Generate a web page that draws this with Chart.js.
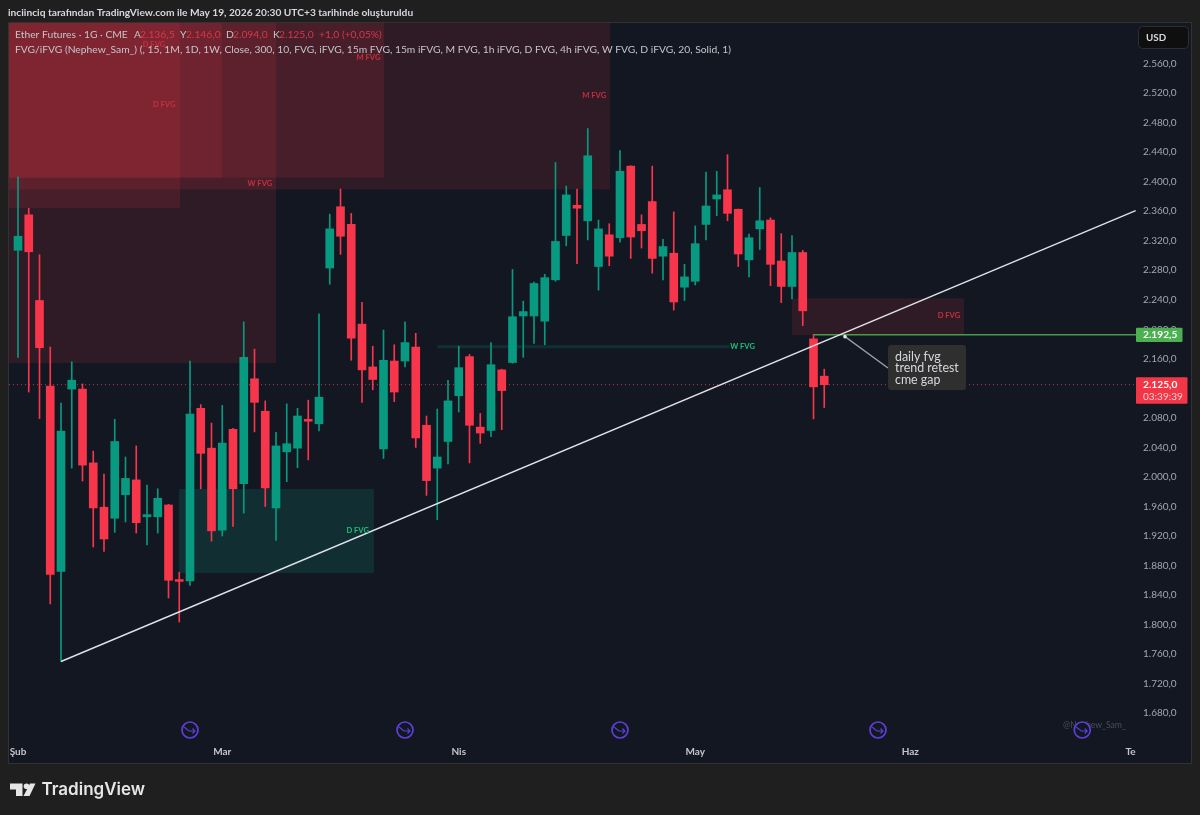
<!DOCTYPE html>
<html>
<head>
<meta charset="utf-8">
<style>
  html, body { margin: 0; padding: 0; background: #1f1f1f; }
  #wrap { position: relative; width: 1200px; height: 815px; }
  canvas { display: block; }
</style>
<script src="https://cdn.jsdelivr.net/npm/chart.js@4"></script>
</head>
<body>
<div id="wrap"><canvas id="chart" width="1200" height="815"></canvas></div>
<script>
// daily candles (bar index 0 = first candle on screen)
const opens = [2307,2355,2239,2123,1872,2119,2119,2019,1959,1944,1976,1996,1946,1946,1962,1861,1859,2093,2039,1928,2064.5,1991,2133,2089,1958,2034,2039,2078,2072,2283,2366,2342,2207,2149,2038,2157,2157,2176,2070,2012,2048,2110,2163,2067.5,2063,2145,2155,2218,2218,2211,2267,2327,2368,2347,2285,2328,2324,2421,2342,2373,2299,2303,2257,2265,2342,2376.5,2389,2362.5,2294,2336,2348,2292.5,2258,2304,2187,2136.5];
const highs = [2406,2364,2301,2176,2100,2156,2126,2035,2004,2078,2027,2042,1989,1984,1963,1871,2157,2098,2073,2097,2066,2210,2173,2103,2060.5,2099,2093,2104,2221,2356,2390,2357,2236.5,2177,2199,2179,2210,2194.5,2082.5,2092,2131,2177,2166,2086,2182,2146,2281,2238,2264,2274.5,2426,2394,2390,2472,2348,2343,2442,2421.5,2355,2421,2322,2359,2288,2340,2413,2414,2436.5,2363,2329,2392,2351,2329.5,2327,2307,2193,2146];
const lows = [2162,2115,2079,1828,1750,2012,1994.5,1905,1899,1925,1939,1924,1908,1924,1836,1803.5,1853,1984,1913,1920,1933,1951,2061,1960,1914,1993.5,2012.5,2023,2062.5,2261,2301.5,2158,2101,2118,2025,2102,2149,2040,1975,1942,2017.5,2088,2019,2045.5,2054.5,2064,2154,2162,2181,2179,2265,2313,2289,2321,2253,2286,2318,2296,2310,2276,2267,2226,2239,2260,2321,2354,2347,2285,2271,2308,2259,2236,2241,2205,2078.5,2094];
const closes = [2326,2305,2175,1868,2062,2131,2016,1958,1916,2048,1998,1938,1949,1971,1860,1858.5,2085,2032,1927,2046,1984,2162,2101,1985,2042,2045,2082.5,2075.5,2108,2336,2326,2188,2145,2132,2158,2115,2182,2053,1995,2027,2103,2148,2070,2059.5,2152,2117,2217,2224,2262,2270,2319,2382,2364,2435,2336,2299,2414,2325,2333.5,2296,2312,2237,2271,2316,2367,2382,2357,2302,2324,2347,2288,2258,2304,2225,2122,2125];

// axis ticks
const priceTicks = [2560,2520,2480,2440,2400,2360,2320,2280,2240,2200,2160,2120,2080,2040,2000,1960,1920,1880,1840,1800,1760,1720,1680];
const shownPrices = priceTicks.filter((p) => p !== 2120);
const timeIndex = [0,19,41,63,83,103.5];
const timeLabels = ["Şub","Mar","Nis","May","Haz","Te"];

// drawn levels
const trendIndex = [4,103.97];
const trendPrice = [1750,2360.6];
const lastClose = 2125;
const levelPrice = 2192.5;
const levelStart = 74;
const indexMin = -0.837;
const indexMax = 104;
const priceMin = 1646.39;
const priceMax = 2614.86;

// FVG boxes, in bar index and price
const redLeft = [-1,-1,-1,-1,-1,72];
const redRight = [15.07,18.98,24,34.05,55.07,88];
const redTop = [2620,2620,2620,2620,2620,2242];
const redBottom = [2364.3,2405.3,2154.3,2405.3,2389.3,2192];
const greenLeft = [14.98,39];
const greenRight = [33.1,66.2];
const greenTop = [1983.6,2178.7];
const greenBottom = [1869.9,2174.2];

const fvgText = ["D FVG","D FVG","M FVG","W FVG","M FVG","D FVG","W FVG","D FVG"];
const fvgIndex = [13.6,12.65,32.6,22.5,53.6,31.6,67.4,86.6];
const fvgPrice = [2504,2585,2567.4,2398,2516,1927,2177,2218];
const fvgGreen = [false,false,false,false,false,true,true,false];

const sessionIndex = [16,36,56,80,99];
const calloutLines = ["daily fvg","trend retest","cme gap"];

const headerText = "inciinciq tarafından TradingView.com ile May 19, 2026 20:30 UTC+3 tarihinde oluşturuldu";
const studyText = "FVG/iFVG (Nephew_Sam_) (, 15, 1M, 1D, 1W, Close, 300, 10, FVG, iFVG, 15m FVG, 15m iFVG, M FVG, 1h iFVG, D FVG, 4h iFVG, W FVG, D iFVG, 20, Solid, 1)";

const UP = "#089981";
const DOWN = "#f7364b";
const FONT = 'Lato, sans-serif';

function fmtPrice(v) {
  const whole = Math.floor(v);
  const s = String(whole);
  return s.slice(0, 1) + "." + s.slice(1) + "," + Math.round((v - whole) * 10);
}

function text(ctx, str, x, y, font, color, align) {
  ctx.font = font;
  ctx.fillStyle = color;
  ctx.textAlign = align || "left";
  ctx.textBaseline = "middle";
  ctx.fillText(str, x, y);
}

function box(ctx, sx, sy, l, r, t, b, color) {
  const x0 = Math.max(sx.getPixelForValue(l), sx.left);
  const x1 = sx.getPixelForValue(r);
  const y0 = Math.max(sy.getPixelForValue(t), sy.top);
  const y1 = sy.getPixelForValue(b);
  ctx.fillStyle = color;
  ctx.fillRect(x0, y0, x1 - x0, y1 - y0);
}

function drawSessionIcon(ctx, x, y) {
  ctx.beginPath();
  ctx.arc(x, y, 8, 0, Math.PI * 2);
  ctx.fillStyle = "#131722";
  ctx.fill();
  ctx.lineWidth = 1.7;
  ctx.strokeStyle = "#5f3fd8";
  ctx.stroke();
  ctx.lineWidth = 1.1;
  ctx.beginPath();
  ctx.moveTo(x - 6, y - 3);
  ctx.lineTo(x - 1, y + 1);
  ctx.lineTo(x + 5, y + 1);
  ctx.moveTo(x + 2.5, y - 1.5);
  ctx.lineTo(x + 5, y + 1);
  ctx.lineTo(x + 2.5, y + 3.5);
  ctx.stroke();
}

function drawLogo(ctx) {
  ctx.fillStyle = "#e6e6e6";
  ctx.beginPath();
  ctx.moveTo(10, 783.5);
  ctx.lineTo(22.5, 783.5);
  ctx.lineTo(22.5, 796);
  ctx.lineTo(16, 796);
  ctx.lineTo(16, 789.5);
  ctx.lineTo(10, 789.5);
  ctx.closePath();
  ctx.fill();
  ctx.beginPath();
  ctx.arc(26.5, 786.3, 2.8, 0, Math.PI * 2);
  ctx.fill();
  ctx.beginPath();
  ctx.moveTo(30, 783.5);
  ctx.lineTo(35.5, 783.5);
  ctx.lineTo(29.5, 796);
  ctx.lineTo(23.5, 796);
  ctx.closePath();
  ctx.fill();
  text(ctx, "TradingView", 41.5, 790, '600 17px Inter, sans-serif', "#e6e6e6");
}

const paneLayer = {
  id: "paneLayer",
  beforeDraw(chart) {
    const ctx = chart.ctx;
    ctx.save();
    ctx.fillStyle = "#1f1f1f";
    ctx.fillRect(0, 0, 1200, 815);
    ctx.fillStyle = "#131722";
    ctx.fillRect(8.5, 22.5, 1183, 741);
    ctx.strokeStyle = "#323232";
    ctx.lineWidth = 1;
    ctx.strokeRect(8.5, 22.5, 1183, 741);
    text(ctx, headerText, 8, 12.5, "700 10.2px " + FONT, "#d6d8de");
    drawLogo(ctx);
    ctx.restore();
  },
  beforeDatasetsDraw(chart) {
    const ctx = chart.ctx;
    const sx = chart.scales.x;
    const sy = chart.scales.y;
    ctx.save();
    redLeft.forEach((l, i) => {
      box(ctx, sx, sy, l, redRight[i], redTop[i], redBottom[i], "rgba(242,54,69,0.13)");
    });
    greenLeft.forEach((l, i) => {
      box(ctx, sx, sy, l, greenRight[i], greenTop[i], greenBottom[i], "rgba(8,153,129,0.19)");
    });
    ctx.restore();
  },
  afterDatasetsDraw(chart) {
    const ctx = chart.ctx;
    const sx = chart.scales.x;
    const sy = chart.scales.y;
    ctx.save();

    fvgText.forEach((t, i) => {
      text(ctx, t, sx.getPixelForValue(fvgIndex[i]), sy.getPixelForValue(fvgPrice[i]),
        "700 7.6px " + FONT, fvgGreen[i] ? "#1fbf78" : "#c5303f", "center");
    });

    // legend lines
    const legendGrey = "#c4c5c9";
    const legendRed = "#d6394a";
    const legendFont = "10.3px " + FONT;
    text(ctx, "Ether Futures · 1G · CME", 15, 35, legendFont, legendGrey);
    text(ctx, "A", 134, 35, legendFont, legendGrey);
    text(ctx, "2.136,5", 140, 35, legendFont, legendRed);
    text(ctx, "Y", 180, 35, legendFont, legendGrey);
    text(ctx, "2.146,0", 186, 35, legendFont, legendRed);
    text(ctx, "D", 226, 35, legendFont, legendGrey);
    text(ctx, "2.094,0", 233, 35, legendFont, legendRed);
    text(ctx, "K", 273, 35, legendFont, legendGrey);
    text(ctx, "2.125,0", 279, 35, legendFont, legendRed);
    text(ctx, "+1,0 (+0,05%)", 319, 35, legendFont, legendRed);
    text(ctx, studyText, 15, 49.5, legendFont, legendGrey);

    // callout
    const ax = sx.getPixelForValue(76.93);
    const ay = sy.getPixelForValue(2190);
    const bx = sx.getPixelForValue(80.93);
    const by = sy.getPixelForValue(2178.7);
    ctx.strokeStyle = "#9a9da4";
    ctx.lineWidth = 1.4;
    ctx.beginPath();
    ctx.moveTo(ax, ay);
    ctx.lineTo(bx, by + 23);
    ctx.stroke();
    ctx.fillStyle = "#e8e8e8";
    ctx.beginPath();
    ctx.arc(ax, ay, 1.8, 0, Math.PI * 2);
    ctx.fill();
    ctx.fillStyle = "#2f2f2f";
    ctx.beginPath();
    ctx.roundRect(bx, by, 78, 45, 3);
    ctx.fill();
    calloutLines.forEach((t, i) => {
      text(ctx, t, bx + 7, by + 11.5 + i * 11.7, "12.4px " + FONT, "#d6d8de");
    });

    // watermark and session marks
    text(ctx, "@Nephew_Sam_", 1063, 725, "8.6px " + FONT, "#4a4d55");
    sessionIndex.forEach((i) => drawSessionIcon(ctx, sx.getPixelForValue(i), 730));

    // price tags
    const tagX = 1136;
    const levelY = sy.getPixelForValue(levelPrice);
    const closeY = sy.getPixelForValue(lastClose);
    ctx.fillStyle = "#4caf50";
    ctx.beginPath();
    ctx.roundRect(tagX, levelY - 7, 46.5, 14.3, 1);
    ctx.fill();
    text(ctx, fmtPrice(levelPrice), tagX + 7, levelY, "700 10.2px " + FONT, "#ffffff");
    ctx.fillStyle = "#f23645";
    ctx.beginPath();
    ctx.roundRect(tagX, closeY - 7.3, 51.5, 26.3, 1);
    ctx.fill();
    text(ctx, fmtPrice(lastClose), tagX + 7, closeY, "700 10.2px " + FONT, "#ffffff");
    text(ctx, "03:39:39", tagX + 7, closeY + 12, "10px " + FONT, "#ffd0d5");

    // currency button
    ctx.fillStyle = "#0f0f0f";
    ctx.strokeStyle = "#2c2f36";
    ctx.lineWidth = 1;
    ctx.beginPath();
    ctx.roundRect(1138.5, 26.5, 50, 22, 4);
    ctx.fill();
    ctx.stroke();
    text(ctx, "USD", 1146, 38, "700 9.8px " + FONT, "#d6d8de");
    ctx.restore();
  }
};

const candleColors = opens.map((o, i) => (closes[i] >= o ? UP : DOWN));

new Chart(document.getElementById("chart"), {
  type: "bar",
  data: {
    datasets: [
      {
        type: "line",
        order: 0,
        data: trendIndex.map((x, i) => ({ x: x, y: trendPrice[i] })),
        borderColor: "#dfe1e6",
        borderWidth: 1.4,
        pointRadius: 0
      },
      {
        type: "line",
        order: 0,
        data: [{ x: levelStart, y: levelPrice }, { x: indexMax, y: levelPrice }],
        borderColor: "#449c49",
        borderWidth: 1.4,
        pointRadius: 0
      },
      {
        type: "bar",
        order: 1,
        grouped: false,
        barThickness: 8,
        borderWidth: 0,
        backgroundColor: candleColors,
        data: opens.map((o, i) => ({ x: i, y: [o, closes[i]] }))
      },
      {
        type: "bar",
        order: 2,
        grouped: false,
        barThickness: 1,
        borderWidth: 0,
        backgroundColor: candleColors,
        data: highs.map((h, i) => ({ x: i, y: [lows[i], h] }))
      },
      {
        type: "line",
        order: 3,
        data: [{ x: indexMin, y: lastClose }, { x: indexMax, y: lastClose }],
        borderColor: "#c03a4c",
        borderWidth: 1,
        borderDash: [1, 3],
        pointRadius: 0
      }
    ]
  },
  plugins: [paneLayer],
  options: {
    responsive: false,
    animation: false,
    devicePixelRatio: 1,
    layout: { padding: { left: 9, top: 23, right: 0, bottom: 47 } },
    plugins: { legend: { display: false }, tooltip: { enabled: false } },
    scales: {
      x: {
        type: "linear",
        offset: false,
        bounds: "data",
        min: indexMin,
        max: indexMax,
        grid: { display: false, offset: false },
        border: { display: false },
        afterBuildTicks(scale) {
          scale.ticks = timeIndex.map((v) => ({ value: v }));
        },
        afterFit(scale) {
          scale.height = 30;
        },
        ticks: {
          autoSkip: false,
          maxRotation: 0,
          padding: 0,
          color: "#c4c5c9",
          font: { family: FONT, size: 10, weight: "bold" },
          callback: (v) => timeLabels[timeIndex.indexOf(v)]
        }
      },
      y: {
        position: "right",
        bounds: "data",
        min: priceMin,
        max: priceMax,
        grid: { display: false, drawTicks: false },
        border: { display: false },
        afterBuildTicks(scale) {
          scale.ticks = shownPrices.map((v) => ({ value: v }));
        },
        afterFit(scale) {
          scale.width = 64;
        },
        ticks: {
          autoSkip: false,
          padding: 7,
          color: "#a3a6ad",
          font: { family: FONT, size: 10 },
          callback: (v) => fmtPrice(v)
        }
      }
    }
  }
});
</script>
</body>
</html>
